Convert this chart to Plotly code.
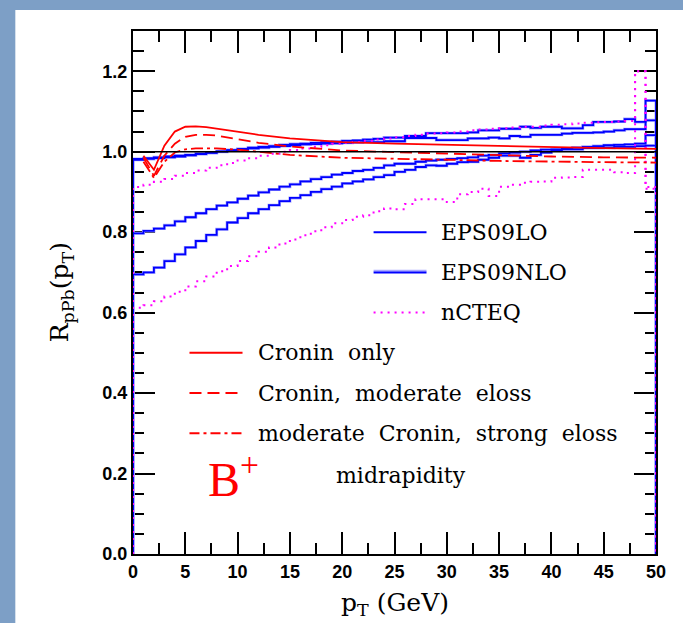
import plotly.graph_objects as go

# ---------------- data ----------------
bin_edges = list(range(0, 51))  # 1 GeV bins 0..50

# EPS09 bands (step histograms), one value per 1-GeV bin
eps_lo_upper = [0.982, 0.984, 0.986, 0.988, 0.990, 0.992, 0.995, 0.998, 1.001, 1.004,
                1.007, 1.010, 1.012, 1.014, 1.017, 1.019, 1.020, 1.022, 1.024, 1.025,
                1.027, 1.028, 1.030, 1.032, 1.035, 1.035, 1.039, 1.039, 1.046, 1.046,
                1.046, 1.046, 1.048, 1.053, 1.053, 1.057, 1.057, 1.062, 1.059, 1.062,
                1.062, 1.058, 1.058, 1.066, 1.074, 1.074, 1.075, 1.081, 1.074, 1.127]
eps_nlo_upper = [0.980, 0.982, 0.984, 0.986, 0.988, 0.991, 0.994, 0.997, 1.000, 1.003,
                 1.006, 1.008, 1.010, 1.012, 1.014, 1.016, 1.018, 1.019, 1.020, 1.021,
                 1.022, 1.023, 1.024, 1.024, 1.026, 1.026, 1.034, 1.034, 1.034, 1.029,
                 1.029, 1.029, 1.033, 1.033, 1.035, 1.033, 1.039, 1.037, 1.042, 1.042,
                 1.042, 1.045, 1.047, 1.047, 1.048, 1.050, 1.053, 1.056, 1.056, 1.078]
eps_nlo_lower = [0.797, 0.803, 0.809, 0.817, 0.827, 0.837, 0.847, 0.857, 0.866, 0.874,
                 0.883, 0.891, 0.899, 0.906, 0.913, 0.919, 0.926, 0.932, 0.937, 0.943,
                 0.947, 0.952, 0.955, 0.960, 0.966, 0.970, 0.970, 0.975, 0.978, 0.980,
                 0.982, 0.984, 0.986, 0.990, 0.992, 0.996, 0.998, 1.000, 1.003, 1.005,
                 1.006, 1.008, 1.010, 1.012, 1.014, 1.016, 1.017, 1.018, 1.020, 1.041]
eps_lo_lower = [0.695, 0.700, 0.712, 0.728, 0.745, 0.762, 0.778, 0.793, 0.807, 0.824,
                0.835, 0.847, 0.857, 0.867, 0.877, 0.885, 0.892, 0.900, 0.907, 0.913,
                0.921, 0.926, 0.931, 0.937, 0.942, 0.950, 0.955, 0.962, 0.966, 0.965,
                0.970, 0.974, 0.975, 0.980, 0.985, 0.990, 0.990, 0.985, 0.992, 0.998,
                1.003, 1.006, 1.006, 1.009, 1.009, 1.010, 1.012, 1.012, 1.014, 1.015]

# nCTEQ band
ncteq_upper = [0.912, 0.918, 0.925, 0.932, 0.940, 0.947, 0.953, 0.960, 0.966, 0.972,
               0.978, 0.984, 0.990, 0.995, 1.000, 1.004, 1.008, 1.012, 1.016, 1.020,
               1.022, 1.024, 1.027, 1.030, 1.033, 1.036, 1.039, 1.042, 1.045, 1.046,
               1.048, 1.050, 1.053, 1.055, 1.057, 1.058, 1.060, 1.062, 1.062, 1.065,
               1.067, 1.068, 1.070, 1.072, 1.073, 1.074, 1.075, 1.076, 1.200, 0.912]
ncteq_lower = [0.612, 0.618, 0.628, 0.640, 0.652, 0.665, 0.678, 0.690, 0.703, 0.716,
               0.728, 0.740, 0.751, 0.762, 0.772, 0.782, 0.792, 0.802, 0.812, 0.822,
               0.830, 0.838, 0.842, 0.852, 0.859, 0.857, 0.870, 0.882, 0.882, 0.882,
               0.875, 0.894, 0.900, 0.908, 0.890, 0.913, 0.918, 0.923, 0.925, 0.926,
               0.935, 0.936, 0.937, 0.955, 0.955, 0.955, 0.949, 0.947, 1.200, 0.908]

# Cronin / energy-loss curves
cronin_pt = [1, 2, 3, 4, 5, 6, 7, 8, 10, 12, 15, 20, 25, 30, 35, 40, 45, 50]
cronin_only = [0.990, 0.955, 1.015, 1.050, 1.062, 1.063, 1.061, 1.057, 1.049, 1.042,
               1.033, 1.024, 1.020, 1.017, 1.014, 1.011, 1.009, 1.007]
cronin_mod_eloss = [0.985, 0.940, 0.990, 1.020, 1.037, 1.042, 1.042, 1.040, 1.031, 1.022,
                    1.013, 1.003, 0.999, 0.995, 0.991, 0.988, 0.986, 0.985]
modcronin_strong_eloss = [0.975, 0.935, 0.975, 0.998, 1.006, 1.008, 1.008, 1.008, 1.005,
                          1.000, 0.992, 0.985, 0.983, 0.980, 0.977, 0.975, 0.974, 0.973]

x_ticks = list(range(0, 51, 5))
y_ticks = [0.0, 0.2, 0.4, 0.6, 0.8, 1.0, 1.2]

# ---------------- figure ----------------
BLUE = "#0000ff"
BLUE_LIGHT = "#aaaaff"
MAG = "#ff00ff"
RED = "#ff0000"


def hist_xy(vals):
    xs = [bin_edges[0]] + bin_edges[:-1] + [bin_edges[-1], bin_edges[-1]]
    ys = [0.0] + list(vals) + [vals[-1], 0.0]
    return xs, ys


fig = go.Figure()

for vals in (eps_nlo_upper, eps_nlo_lower, eps_lo_upper, eps_lo_lower):
    xs, ys = hist_xy(vals)
    fig.add_trace(go.Scatter(x=xs, y=ys, mode="lines", line_shape="hv",
                             line=dict(color=BLUE_LIGHT, width=3), showlegend=False,
                             hoverinfo="skip"))
for vals in (eps_nlo_upper, eps_nlo_lower, eps_lo_upper, eps_lo_lower):
    xs, ys = hist_xy(vals)
    fig.add_trace(go.Scatter(x=xs, y=ys, mode="lines", line_shape="hv",
                             line=dict(color=BLUE, width=1.8), showlegend=False))
for vals in (ncteq_upper, ncteq_lower):
    xs, ys = hist_xy(vals)
    fig.add_trace(go.Scatter(x=xs, y=ys, mode="lines", line_shape="hv",
                             line=dict(color=MAG, width=2, dash="2px,5px"),
                             showlegend=False))

fig.add_trace(go.Scatter(x=cronin_pt, y=cronin_only, mode="lines",
                         line=dict(color=RED, width=1.8), showlegend=False))
fig.add_trace(go.Scatter(x=cronin_pt, y=cronin_mod_eloss, mode="lines",
                         line=dict(color=RED, width=1.8, dash="12px,6px"), showlegend=False))
fig.add_trace(go.Scatter(x=cronin_pt, y=modcronin_strong_eloss, mode="lines",
                         line=dict(color=RED, width=1.8, dash="12px,4px,3px,4px"),
                         showlegend=False))

# reference line at 1
fig.add_hline(y=1.0, line=dict(color="black", width=1.5))

# background panel
fig.add_shape(type="rect", xref="paper", yref="paper", x0=-0.225, x1=1.06, y0=-0.2,
              y1=1.04, fillcolor="white", line=dict(width=0), layer="below")

# legend keys
def key(x0, x1, y, color, dash=None, light=False):
    if light:
        fig.add_shape(type="line", x0=x0, x1=x1, y0=y + 0.004, y1=y + 0.004,
                      line=dict(color=BLUE_LIGHT, width=2))
    fig.add_shape(type="line", x0=x0, x1=x1, y0=y, y1=y,
                  line=dict(color=color, width=2, dash=dash) if dash else dict(color=color, width=2))

key(23.0, 28.06, 0.80, BLUE)
key(23.0, 28.06, 0.70, BLUE, light=True)
key(23.0, 28.06, 0.60, MAG, dash="2px,5px")
key(5.4, 10.47, 0.50, RED)
key(5.4, 10.47, 0.40, RED, dash="12px,6px")
key(5.4, 10.47, 0.30, RED, dash="10px,4px,3px,4px")

SP = "\u00a0\u00a0"
TF = dict(family="DejaVu Serif", size=22, color="black")
labels = [
    (29.3, 0.80, "EPS09LO"),
    (29.3, 0.70, "EPS09NLO"),
    (29.3, 0.60, "nCTEQ"),
    (11.78, 0.50, "Cronin" + SP + "only"),
    (11.78, 0.40, "Cronin," + SP + "moderate" + SP + "eloss"),
    (11.78, 0.30, "moderate" + SP + "Cronin," + SP + "strong" + SP + "eloss"),
    (19.26, 0.195, "midrapidity"),
]
for x, y, t in labels:
    fig.add_annotation(x=x, y=y, text=t, showarrow=False, xanchor="left",
                       yanchor="middle", font=TF)
fig.add_annotation(x=7.0, y=0.195, text="B<sup>+</sup>", showarrow=False, xanchor="left",
                   yanchor="middle", font=dict(family="Liberation Serif", size=48, color=RED))

# axis titles
fig.add_annotation(xref="paper", yref="paper", x=0.5, y=-0.095, text="p<sub>T</sub> (GeV)",
                   showarrow=False, xanchor="center", yanchor="middle",
                   font=dict(family="DejaVu Serif", size=25, color="black"))
fig.add_annotation(xref="paper", yref="paper", x=-0.138, y=0.5,
                   text="R<sub>pPb</sub>(p<sub>T</sub>)", textangle=-90,
                   showarrow=False, xanchor="center", yanchor="middle",
                   font=dict(family="DejaVu Serif", size=25, color="black"))

tickfont = dict(family="Liberation Sans", size=18, color="black", weight="bold")
fig.update_xaxes(range=[0, 50], tickvals=x_ticks, ticks="inside", ticklen=22,
                 tickwidth=1.5, tickcolor="black", showline=True, linecolor="black",
                 linewidth=2, mirror="ticks", showgrid=False, zeroline=False,
                 tickfont=tickfont, layer="below traces",
                 minor=dict(dtick=2.5, ticks="inside", ticklen=11, tickwidth=1.5,
                            tickcolor="black", showgrid=False))
fig.update_yaxes(range=[0, 1.3], tickvals=y_ticks, tickformat=".1f", ticks="inside",
                 ticklen=22, tickwidth=1.5, tickcolor="black", showline=True,
                 linecolor="black", linewidth=2, mirror="ticks", showgrid=False,
                 zeroline=False, tickfont=tickfont, layer="below traces",
                 minor=dict(dtick=0.05, ticks="inside", ticklen=11, tickwidth=1.5,
                            tickcolor="black", showgrid=False))

fig.update_layout(width=683, height=623, autosize=False,
                  margin=dict(l=133, r=27, t=31, b=69),
                  paper_bgcolor="#7d9fc6", plot_bgcolor="white",
                  showlegend=False)

fig.write_html("out.html")
